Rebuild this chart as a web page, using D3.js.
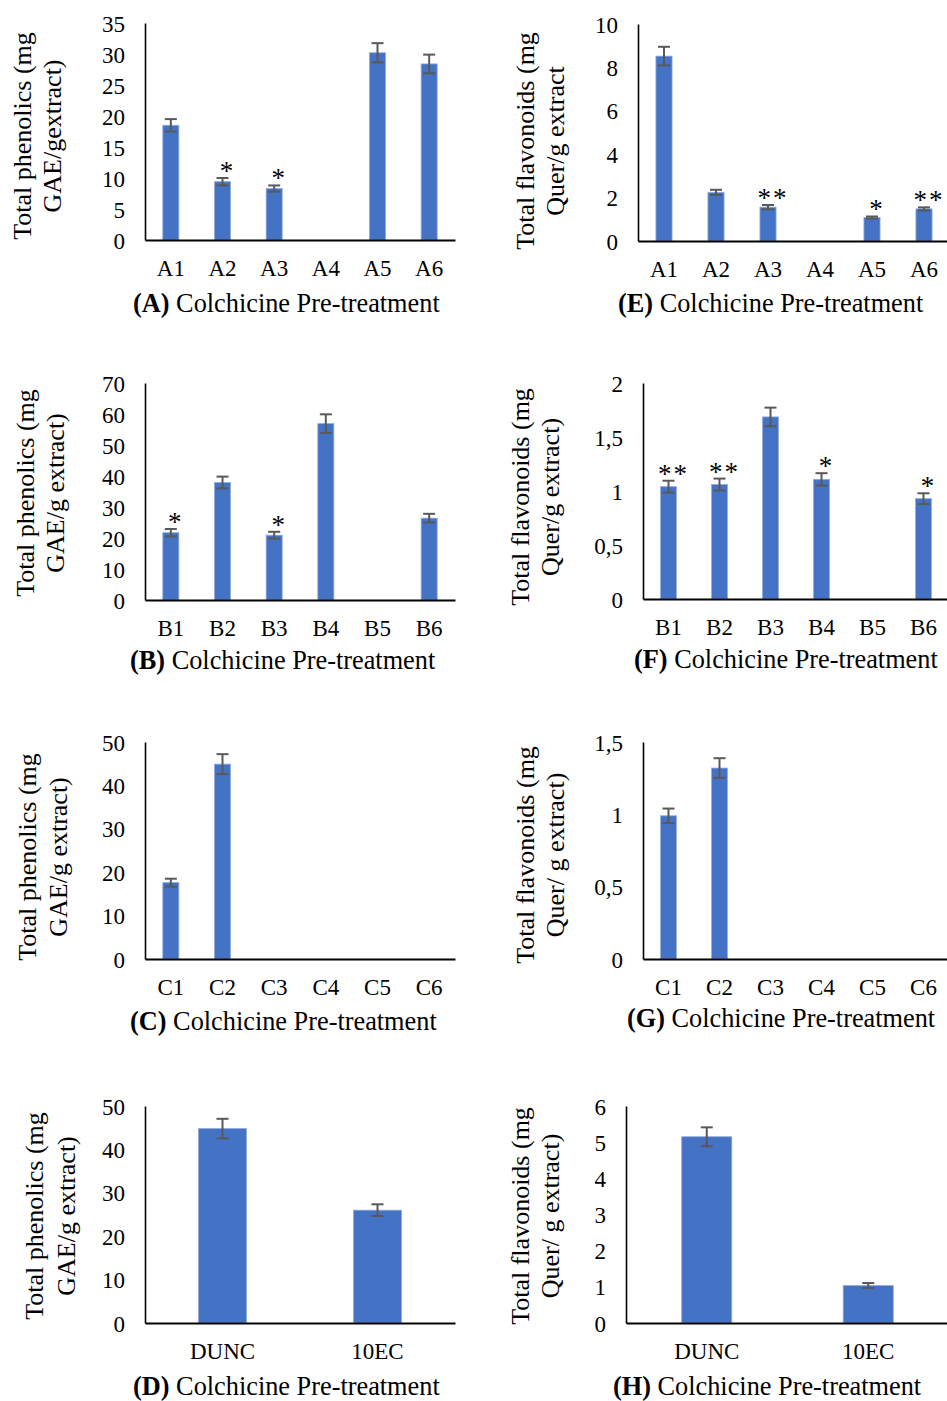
<!DOCTYPE html>
<html><head><meta charset="utf-8">
<script src="https://cdn.jsdelivr.net/npm/d3@7"></script>
<style>
html,body{margin:0;padding:0;background:#fff;}
svg text{font-family:"Liberation Serif","Times New Roman",serif;fill:#000;}
</style></head>
<body><svg id="c" width="947" height="1401"></svg>
<script>
// ---------- DATA ----------
const catsA = ["A1","A2","A3","A4","A5","A6"];
const phenA = [18.5, 9.4, 8.3, 0, 30.2, 28.4];
const phenAErr = [1.0, 0.6, 0.5, 0, 1.55, 1.5];
const phenAStars = ["", "*", "*", "", "", ""];
const flavA = [8.52, 2.24, 1.56, 0, 1.08, 1.48];
const flavAErr = [0.43, 0.12, 0.1, 0, 0.05, 0.07];
const flavAStars = ["", "", "**", "", "*", "**"];

const catsB = ["B1","B2","B3","B4","B5","B6"];
const phenB = [21.7, 37.9, 20.9, 56.9, 0, 26.4];
const phenBErr = [1.2, 1.9, 1.1, 3.0, 0, 1.4];
const phenBStars = ["*", "", "*", "", "", ""];
const flavB = [1.04, 1.06, 1.686, 1.108, 0, 0.929];
const flavBErr = [0.055, 0.055, 0.086, 0.057, 0, 0.05];
const flavBStars = ["**", "**", "", "*", "", "*"];

const catsC = ["C1","C2","C3","C4","C5","C6"];
const phenC = [17.6, 44.9, 0, 0, 0, 0];
const phenCErr = [0.9, 2.3, 0, 0, 0, 0];
const flavC = [0.99, 1.32, 0, 0, 0, 0];
const flavCErr = [0.05, 0.068, 0, 0, 0, 0];

const catsD = ["DUNC","10EC"];
const phenD = [44.8, 26.0];
const phenDErr = [2.25, 1.35];
const flavD = [5.15, 1.035];
const flavDErr = [0.26, 0.07];

const ticksA = [0,5,10,15,20,25,30,35];
const ticksE = [0,2,4,6,8,10];
const ticksB = [0,10,20,30,40,50,60,70];
const ticksF = [0,0.5,1,1.5,2];
const ticksC = [0,10,20,30,40,50];
const ticksG = [0,0.5,1,1.5];
const ticksD = [0,10,20,30,40,50];
const ticksH = [0,1,2,3,4,5,6];

const phenLabel = ["Total phenolics (mg", "GAE/g extract)"];
const flavLabel = ["Total flavonoids (mg", "Quer/g extract)"];
const titleRest = " Colchicine Pre-treatment";

// ---------- PANELS ----------
const panels = [
  {tag:"(A)", cats:catsA, vals:phenA, errs:phenAErr, stars:phenAStars, ticks:ticksA,
   ylab:["Total phenolics (mg","GAE/gextract)"],
   x0:145,x1:455,yTop:23,yBase:240,tx:133,ty:312,l1:31,l2:61,lc:136},
  {tag:"(E)", cats:catsA, vals:flavA, errs:flavAErr, stars:flavAStars, ticks:ticksE,
   ylab:["Total flavonoids (mg","Quer/g extract"],
   x0:638,x1:950,yTop:24,yBase:241,tx:618,ty:312,l1:534,l2:564,lc:141},
  {tag:"(B)", cats:catsB, vals:phenB, errs:phenBErr, stars:phenBStars, ticks:ticksB,
   ylab:phenLabel,
   x0:145,x1:455,yTop:383,yBase:600,tx:130,ty:669,l1:34,l2:64,lc:493},
  {tag:"(F)", cats:catsB, vals:flavB, errs:flavBErr, stars:flavBStars, ticks:ticksF,
   ylab:flavLabel,
   x0:643,x1:949,yTop:383,yBase:599,tx:634,ty:668,l1:529,l2:559,lc:497},
  {tag:"(C)", cats:catsC, vals:phenC, errs:phenCErr, stars:null, ticks:ticksC,
   ylab:phenLabel,
   x0:145,x1:455,yTop:742,yBase:959,tx:130,ty:1030,l1:36,l2:67,lc:857},
  {tag:"(G)", cats:catsC, vals:flavC, errs:flavCErr, stars:null, ticks:ticksG,
   ylab:["Total flavonoids (mg","Quer/ g extract)"],
   x0:643,x1:949,yTop:742,yBase:959,tx:627,ty:1027,l1:534,l2:564,lc:855},
  {tag:"(D)", cats:catsD, vals:phenD, errs:phenDErr, stars:null, ticks:ticksD,
   ylab:phenLabel,
   x0:145,x1:455,yTop:1106,yBase:1323,tx:133,ty:1395,l1:43,l2:75,lc:1216},
  {tag:"(H)", cats:catsD, vals:flavD, errs:flavDErr, stars:null, ticks:ticksH,
   ylab:["Total flavonoids (mg","Quer/ g extract)"],
   x0:626,x1:949,yTop:1106,yBase:1323,tx:613,ty:1395,l1:529,l2:559,lc:1216}
];

const svg = d3.select("#c");
const fmt = v => String(v).replace(".", ",");
const SERIF = '"Liberation Serif","Times New Roman",serif';

panels.forEach(p => {
  const g = svg.append("g");
  const x = d3.scaleBand().domain(p.cats).range([p.x0, p.x1])
    .paddingInner(0.69).paddingOuter(0.345);
  const y = d3.scaleLinear().domain([0, d3.max(p.ticks)]).range([p.yBase, p.yTop]);

  // y axis
  const ya = g.append("g").attr("transform", `translate(${p.x0},0)`)
    .call(d3.axisLeft(y).tickValues(p.ticks).tickFormat(fmt).tickSize(0).tickPadding(20))
    .attr("font-family", SERIF).attr("font-size", 23);
  ya.select(".domain").attr("stroke","#000").attr("stroke-width",1.6);
  ya.selectAll("text").attr("dy","0.35em");

  // bars
  const data = p.cats.map((c,i)=>({c, v:p.vals[i], e:p.errs[i], s:p.stars ? p.stars[i] : ""}));
  g.selectAll("rect.bar").data(data.filter(d=>d.v>0)).join("rect")
    .attr("x", d=>x(d.c)).attr("width", x.bandwidth())
    .attr("y", d=>y(d.v)).attr("height", d=>p.yBase - y(d.v))
    .attr("fill","#4472C4").attr("stroke","#8FAADC").attr("stroke-width",0.8);

  // error bars
  const eb = g.selectAll("g.err").data(data.filter(d=>d.e>0)).join("g")
    .attr("stroke","#595959").attr("stroke-width",2);
  eb.append("line").attr("x1",d=>x(d.c)+x.bandwidth()/2).attr("x2",d=>x(d.c)+x.bandwidth()/2)
    .attr("y1",d=>y(d.v+d.e)).attr("y2",d=>y(d.v-d.e));
  eb.append("line").attr("x1",d=>x(d.c)+x.bandwidth()/2-6).attr("x2",d=>x(d.c)+x.bandwidth()/2+6)
    .attr("y1",d=>y(d.v+d.e)).attr("y2",d=>y(d.v+d.e));
  eb.append("line").attr("x1",d=>x(d.c)+x.bandwidth()/2-6).attr("x2",d=>x(d.c)+x.bandwidth()/2+6)
    .attr("y1",d=>y(d.v-d.e)).attr("y2",d=>y(d.v-d.e));

  // stars
  g.selectAll("text.star").data(data.filter(d=>d.s)).join("text")
    .attr("x", d=>x(d.c)+x.bandwidth()/2+5)
    .attr("y", d=>y(d.v+d.e)+2)
    .attr("text-anchor","middle")
    .style("font-size","27px").style("letter-spacing","2px")
    .text(d=>d.s);

  // x axis
  const xa = g.append("g").attr("transform", `translate(0,${p.yBase})`)
    .call(d3.axisBottom(x).tickSize(0).tickPadding(0))
    .attr("font-family", SERIF).attr("font-size", 23);
  xa.select(".domain").attr("stroke","#000").attr("stroke-width",2.2);
  xa.selectAll("text").attr("dy",null).attr("y",36);

  // x title
  const t = g.append("text").attr("x",p.tx).attr("y",p.ty).style("font-size","26.3px");
  t.append("tspan").style("font-weight","bold").text(p.tag);
  t.append("tspan").text(titleRest);

  // y title
  [p.l1, p.l2].forEach((bx,i)=>{
    g.append("text").attr("transform",`translate(${bx},${p.lc}) rotate(-90)`)
      .attr("text-anchor","middle").style("font-size","26px").text(p.ylab[i]);
  });
});
</script></body></html>
